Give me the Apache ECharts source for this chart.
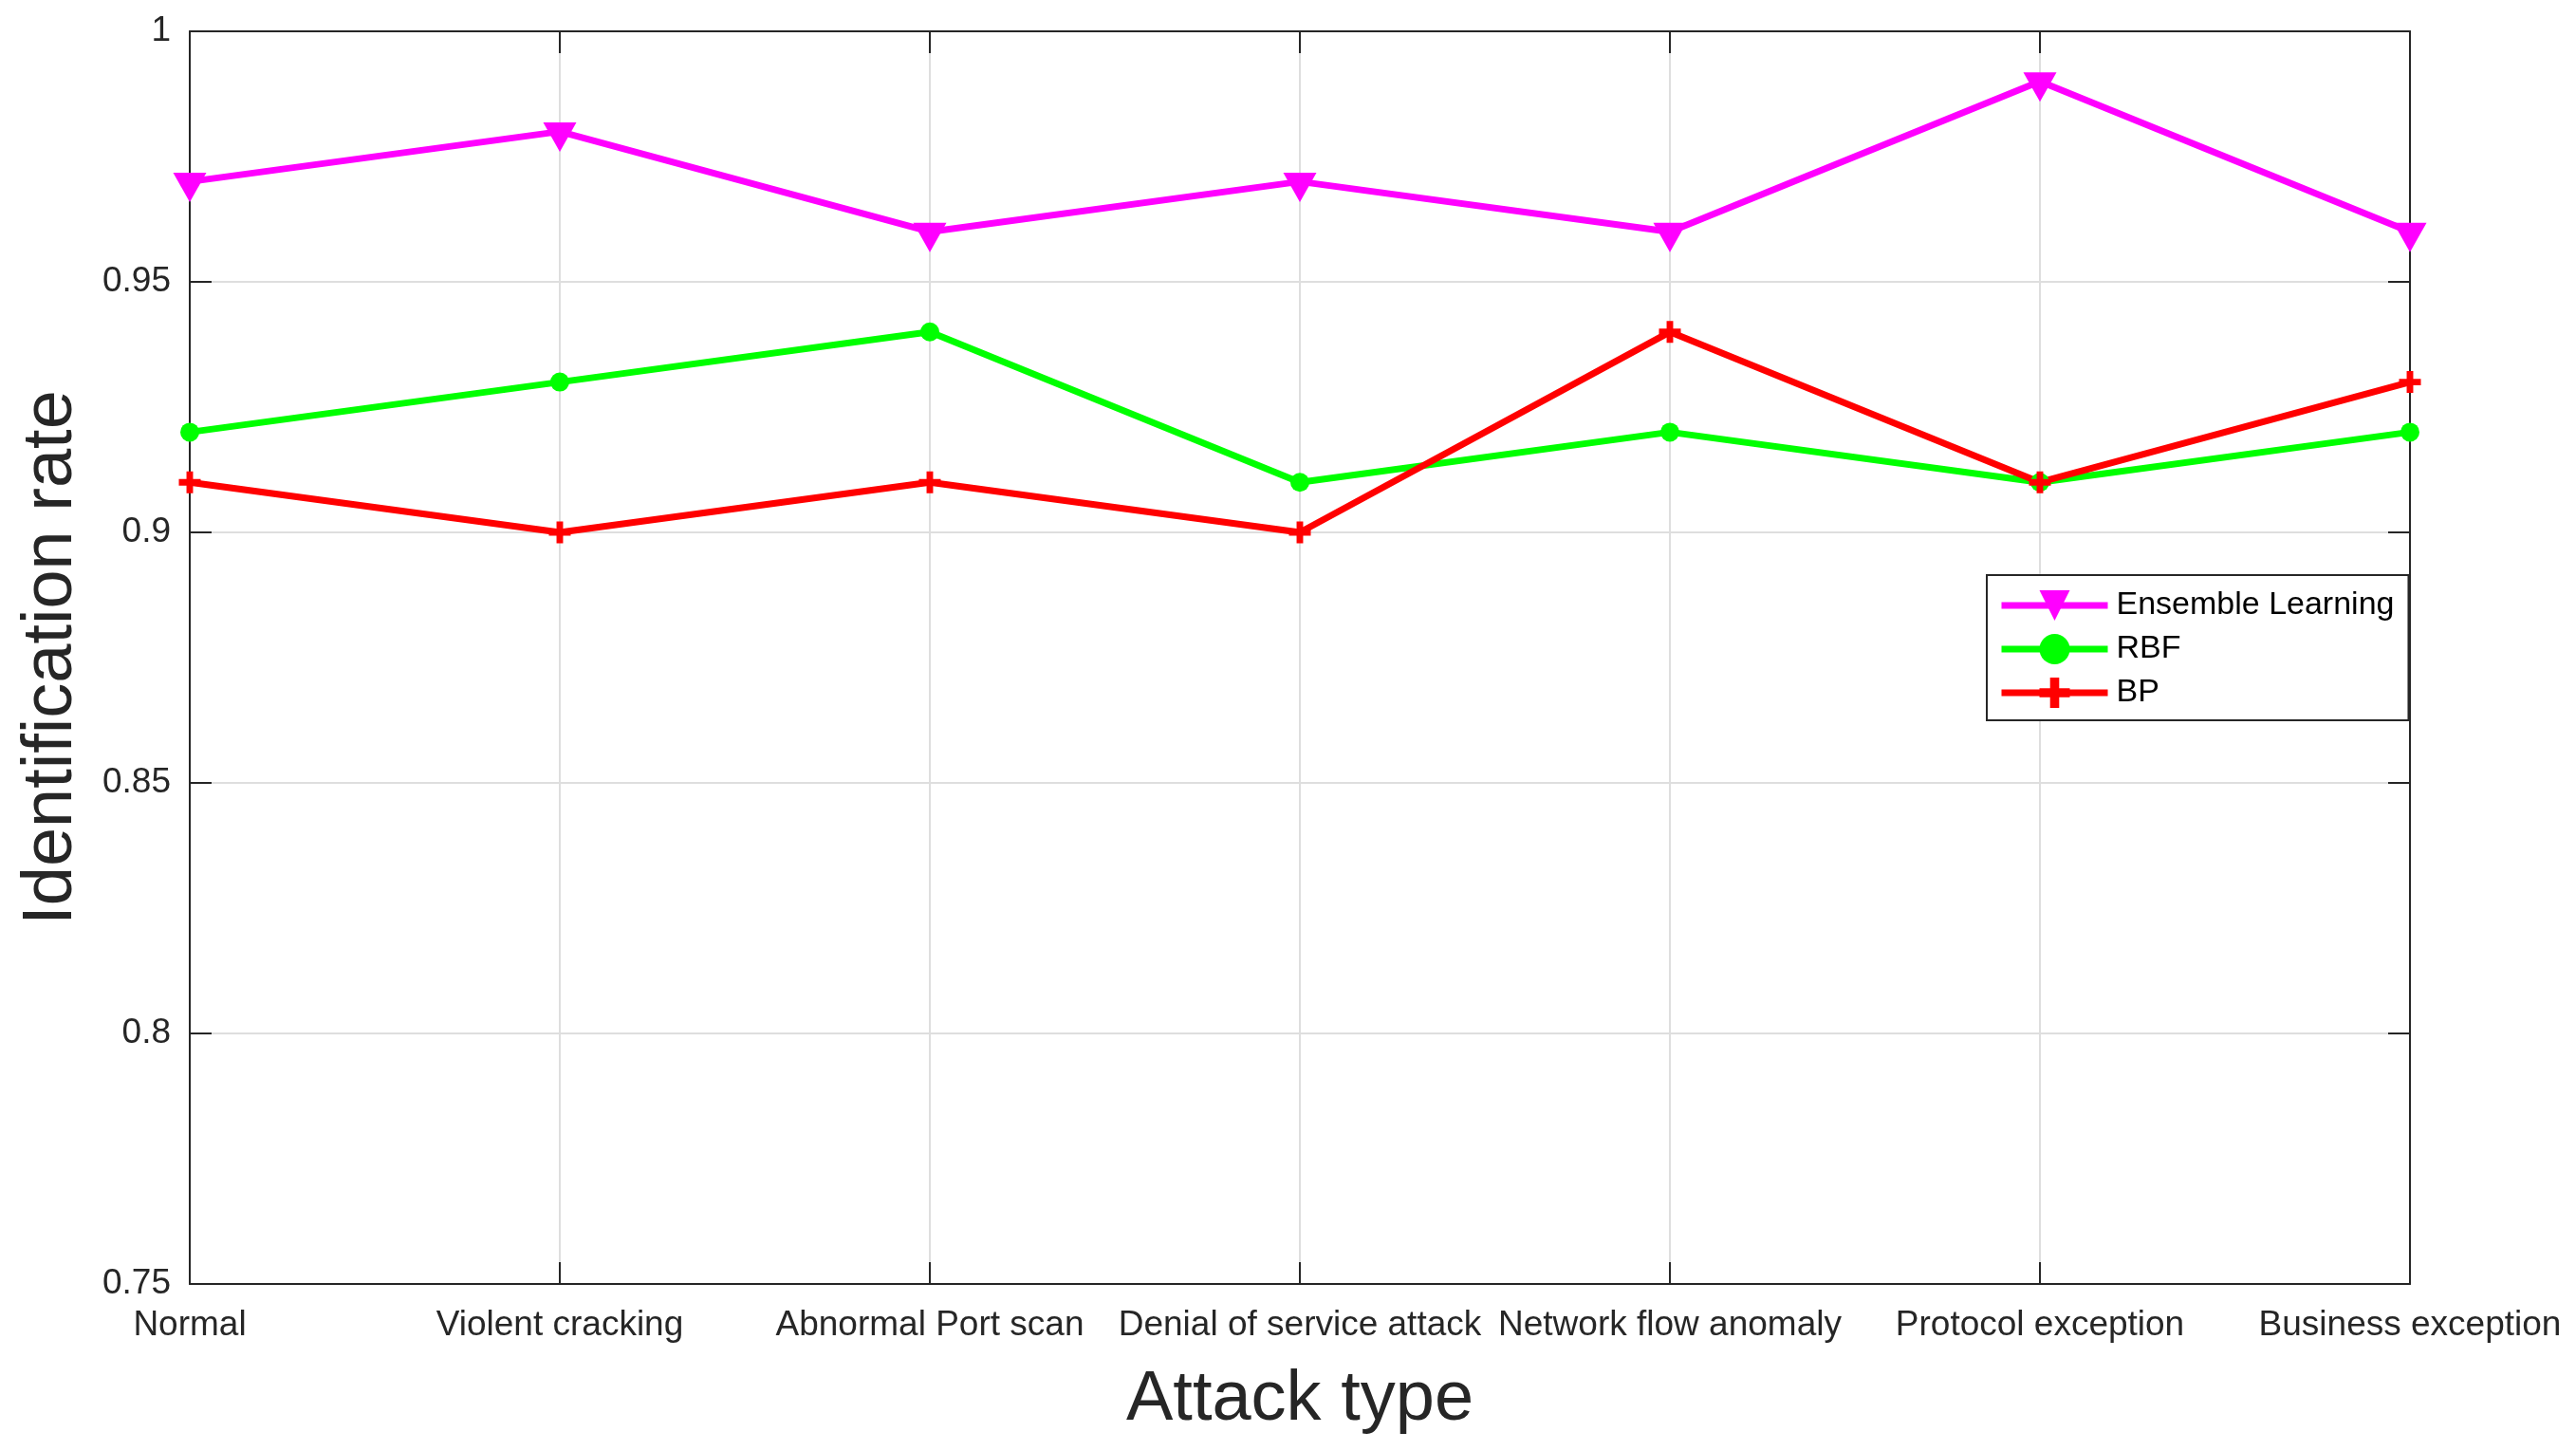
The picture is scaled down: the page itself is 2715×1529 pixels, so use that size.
<!DOCTYPE html>
<html>
<head>
<meta charset="utf-8">
<script src="https://cdn.jsdelivr.net/npm/echarts@6/dist/echarts.min.js"></script>
<style>
html,body{margin:0;padding:0;background:#fff;}
#chart{width:2715px;height:1529px;}
</style>
</head>
<body>
<div id="chart"></div>
<script>
const categories = ["Normal", "Violent cracking", "Abnormal Port scan", "Denial of service attack", "Network flow anomaly", "Protocol exception", "Business exception"];
const ensembleLearning = [0.97, 0.98, 0.96, 0.97, 0.96, 0.99, 0.96];
const rbf = [0.92, 0.93, 0.94, 0.91, 0.92, 0.91, 0.92];
const bp = [0.91, 0.90, 0.91, 0.90, 0.94, 0.91, 0.93];
const yMin = 0.75, yMax = 1, yStep = 0.05;

const FONT = '"Liberation Sans", Arial, Helvetica, sans-serif';
const AX = '#262626';
const PLUS = 'path://M3.5,0 H6.5 V3.5 H10 V6.5 H6.5 V10 H3.5 V6.5 H0 V3.5 H3.5 Z';

const chart = echarts.init(document.getElementById('chart'), null, {renderer: 'canvas'});
chart.setOption({
  backgroundColor: '#ffffff',
  animation: false,
  textStyle: {fontFamily: FONT},
  grid: {left: 200, right: 175, top: 33, bottom: 176, containLabel: false},
  legend: {
    orient: 'vertical',
    left: 2094,
    top: 606,
    align: 'left',
    padding: [15, 15, 12, 12],
    borderColor: AX,
    borderWidth: 2,
    backgroundColor: '#ffffff',
    itemWidth: 112,
    itemHeight: 40,
    itemGap: 12,
    lineStyle: {width: 7},
    textStyle: {fontSize: 34, color: '#000', fontFamily: FONT, padding: [0, 0, 0, 4]},
    data: ['Ensemble Learning', 'RBF', 'BP']
  },
  xAxis: [{
    type: 'category',
    data: categories,
    boundaryGap: false,
    position: 'bottom',
    name: 'Attack type',
    nameLocation: 'middle',
    nameGap: 86,
    nameTextStyle: {fontSize: 74, color: AX, fontFamily: FONT},
    axisLine: {show: true, lineStyle: {color: AX, width: 2}},
    axisTick: {show: true, inside: true, length: 23, interval: 0, lineStyle: {color: AX, width: 2}},
    axisLabel: {interval: 0, fontSize: 37, color: AX, margin: 25, fontFamily: FONT},
    splitLine: {show: true, interval: 0, lineStyle: {color: '#dedede', width: 2}}
  }, {
    type: 'category',
    data: categories,
    boundaryGap: false,
    position: 'top',
    axisLine: {show: true, onZero: false, lineStyle: {color: AX, width: 2}},
    axisTick: {show: true, inside: true, length: 23, interval: 0, lineStyle: {color: AX, width: 2}},
    axisLabel: {show: false},
    splitLine: {show: false}
  }],
  yAxis: [{
    type: 'value',
    min: yMin,
    max: yMax,
    interval: yStep,
    position: 'left',
    name: 'Identification rate',
    nameLocation: 'middle',
    nameGap: 108,
    nameTextStyle: {fontSize: 74, color: AX, fontFamily: FONT},
    axisLine: {show: true, lineStyle: {color: AX, width: 2}},
    axisTick: {show: true, inside: true, length: 23, lineStyle: {color: AX, width: 2}},
    axisLabel: {fontSize: 37, color: AX, margin: 20, fontFamily: FONT},
    splitLine: {show: true, lineStyle: {color: '#dedede', width: 2}}
  }, {
    type: 'value',
    min: yMin,
    max: yMax,
    interval: yStep,
    position: 'right',
    axisLine: {show: true, onZero: false, lineStyle: {color: AX, width: 2}},
    axisTick: {show: true, inside: true, length: 23, lineStyle: {color: AX, width: 2}},
    axisLabel: {show: false},
    splitLine: {show: false}
  }],
  series: [{
    name: 'Ensemble Learning',
    type: 'line',
    data: ensembleLearning,
    xAxisIndex: 0, yAxisIndex: 0,
    symbol: 'triangle',
    symbolRotate: 180,
    symbolSize: [35, 31],
    symbolOffset: [0, 6],
    lineStyle: {color: '#ff00ff', width: 7},
    itemStyle: {color: '#ff00ff'},
    emphasis: {disabled: true}
  }, {
    name: 'RBF',
    type: 'line',
    data: rbf,
    xAxisIndex: 0, yAxisIndex: 0,
    symbol: 'circle',
    symbolSize: 20,
    lineStyle: {color: '#00ff00', width: 7},
    itemStyle: {color: '#00ff00'},
    emphasis: {disabled: true}
  }, {
    name: 'BP',
    type: 'line',
    data: bp,
    xAxisIndex: 0, yAxisIndex: 0,
    symbol: PLUS,
    symbolSize: 23,
    lineStyle: {color: '#ff0000', width: 7},
    itemStyle: {color: '#ff0000'},
    emphasis: {disabled: true}
  }]
});
</script>
</body>
</html>
